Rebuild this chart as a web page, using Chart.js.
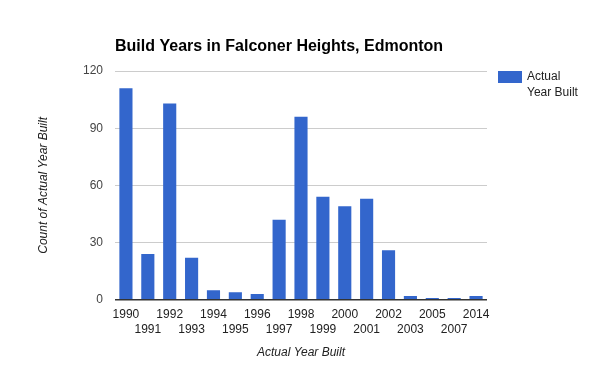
<!DOCTYPE html>
<html lang="en">
<head>
    <meta charset="UTF-8">
    <title>Build Years in Falconer Heights, Edmonton</title>
    <script src="https://cdn.jsdelivr.net/npm/chart.js"></script>
    <style>
        body { margin: 0; background: #fff; }
    </style>
</head>
<body>
    <canvas id="buildChart" width="600" height="371"></canvas>
    <script>
        var years = ['1990', '1991', '1992', '1993', '1994', '1995', '1996', '1997', '1998',
                     '1999', '2000', '2001', '2002', '2003', '2005', '2007', '2014'];
        var counts = [111, 24, 103, 22, 5, 4, 3, 42, 96, 54, 49, 53, 26, 2, 1, 1, 2];
        var yTicks = [0, 30, 60, 90, 120];

        var FONT = "Arial, 'Liberation Sans', sans-serif";
        var BLUE = '#3366cc';

        // titre + legende dessines a la main (position fixe comme l'original)
        var extras = {
            id: 'extras',
            afterDraw: function(chart) {
                var c = chart.ctx;
                c.save();
                c.fillStyle = '#000';
                c.font = 'bold 16px ' + FONT;
                c.textBaseline = 'alphabetic';
                c.textAlign = 'left';
                c.fillText('Build Years in Falconer Heights, Edmonton', 115, 51);

                c.fillStyle = BLUE;
                c.fillRect(498, 71, 24, 12);
                c.fillStyle = '#222';
                c.font = '12px ' + FONT;
                c.textBaseline = 'middle';
                c.fillText('Actual', 527, 77);
                c.fillText('Year Built', 527, 93);
                c.restore();
            }
        };

        var ctx = document.getElementById('buildChart').getContext('2d');
        var chart = new Chart(ctx, {
            type: 'bar',
            data: {
                labels: years,
                datasets: [{
                    label: 'Actual Year Built',
                    data: counts,
                    backgroundColor: BLUE,
                    barPercentage: 0.6,
                    categoryPercentage: 1.0
                }]
            },
            options: {
                responsive: false,
                animation: false,
                layout: { padding: { left: 30, right: 113, top: 71, bottom: 11 } },
                plugins: {
                    legend: { display: false },
                    tooltip: { enabled: false }
                },
                scales: {
                    x: {
                        grid: { display: false },
                        border: { display: false },
                        ticks: {
                            autoSkip: false,
                            maxRotation: 0,
                            color: '#222',
                            font: { family: FONT, size: 12, lineHeight: 1.2 },
                            padding: 0,
                            callback: function(v, i) {
                                return i % 2 === 0 ? [years[i]] : ['', years[i]];
                            }
                        },
                        title: {
                            display: true,
                            text: 'Actual Year Built',
                            color: '#222',
                            font: { family: FONT, size: 12, style: 'italic' },
                            padding: { top: 9, bottom: 0 }
                        }
                    },
                    y: {
                        min: 0,
                        max: 120,
                        afterBuildTicks: function(axis) {
                            axis.ticks = yTicks.map(function(v) { return { value: v }; });
                        },
                        afterFit: function(axis) { axis.width = 85; },
                        border: { display: false },
                        grid: {
                            color: function(c) { return c.tick.value === 0 ? '#333' : '#ccc'; },
                            lineWidth: function(c) { return c.tick.value === 0 ? 1.5 : 1; },
                            drawTicks: false
                        },
                        ticks: {
                            color: '#444',
                            font: { family: FONT, size: 12 },
                            padding: 12
                        },
                        title: {
                            display: true,
                            text: 'Count of Actual Year Built',
                            color: '#222',
                            font: { family: FONT, size: 12, style: 'italic' },
                            padding: { top: 6, bottom: 0 }
                        }
                    }
                }
            },
            plugins: [extras]
        });
    </script>
</body>
</html>
